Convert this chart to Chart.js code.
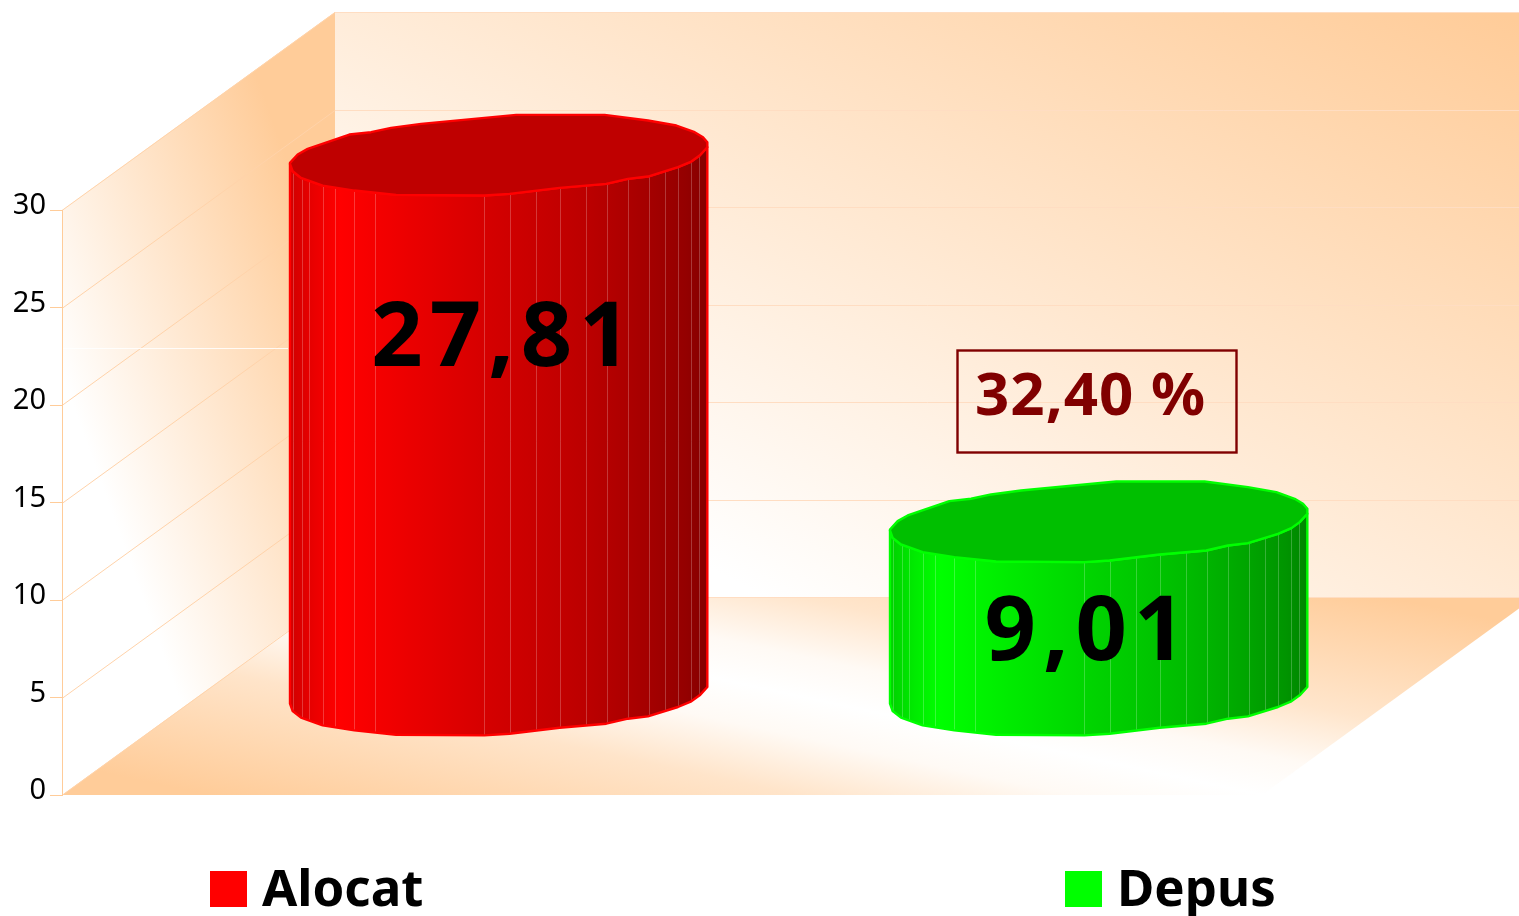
<!DOCTYPE html>
<html>
<head>
<meta charset="utf-8">
<style>html,body{margin:0;padding:0;background:#fff;overflow:hidden}canvas{display:block}</style>
<script src="https://cdn.jsdelivr.net/npm/chart.js@4/dist/chart.umd.min.js"></script>
</head>
<body>
<canvas id="c" width="1519" height="916"></canvas>
<script>
const categories = ['Alocat', 'Depus'];
const values = [27.81, 9.01];
const barColors = ['#ff0000', '#00ff00'];
const ratioLabel = '32,40 %';
const tickStep = 5;
const axisMax = 30;

const FONT = '"Noto Sans", "DejaVu Sans", sans-serif';
const ORANGE = '#ffcc99';
const GRID_SIDE = '#ffd3aa';
const GRID_BACK = '#ffddc2';
const DEPTH = { x: 273, y: -198 };
const UNIT = 625;
const FRONT = [[-625,26],[-617,48],[-592,68],[-527,91],[-432,106],[-307,119],[-42,121],[33,116],[183,98],[323,86],[388,71],[448,64],[538,36],[578,19],[603,1],[626,-24]];
const BACK = [[626,-39],[613,-54],[588,-69],[533,-89],[448,-104],[318,-121],[53,-121],[-232,-94],[-322,-82],[-382,-69],[-447,-62],[-572,-19],[-602,-2],[-625,23]];
const FACETS = [-615,-590,-567,-527,-489,-432,-369,-44,33,111,183,261,325,388,450,498,538,578,601];
const SHADES = [[0,.82],[.06,.92],[.12,1],[.27,.93],[.48,.83],[.7,.74],[.85,.65],[.95,.58],[1,.52]];
const LABEL_NUDGE = [[6, 88], [-10, 15]];

function shade(hex, f) {
  const n = parseInt(hex.slice(1), 16);
  const c = [(n >> 16) & 255, (n >> 8) & 255, n & 255].map(v => Math.round(v * f));
  return `rgb(${c[0]},${c[1]},${c[2]})`;
}
function poly(ctx, pts) {
  ctx.beginPath();
  pts.forEach((p, i) => i ? ctx.lineTo(p[0], p[1]) : ctx.moveTo(p[0], p[1]));
  ctx.closePath();
}

const walls = {
  id: 'walls',
  beforeDraw(chart) {
    const { ctx, chartArea: a, scales: { y } } = chart;
    const L = a.left, R = a.right, B = a.bottom, T = a.top;
    const dx = DEPTH.x, dy = DEPTH.y;
    ctx.save();
    // back wall
    let g = ctx.createLinearGradient(430, 420, 833, -341);
    g.addColorStop(0, '#ffffff'); g.addColorStop(1, ORANGE);
    poly(ctx, [[L+dx,T+dy],[R+dx,T+dy],[R+dx,B+dy],[L+dx,B+dy]]);
    ctx.fillStyle = g; ctx.fill();
    // left wall
    g = ctx.createLinearGradient(22, 265, 290, 168);
    g.addColorStop(0, '#ffffff'); g.addColorStop(1, ORANGE);
    poly(ctx, [[L,T],[L+dx,T+dy],[L+dx,B+dy],[L,B]]);
    ctx.fillStyle = g; ctx.fill();
    // floor: white along the diagonal, orange towards the two far corners
    const cx = (L + dx + R) / 2, cy = (B + dy + B) / 2;
    const run = R - L - dx, rise = -dy;
    const len = Math.hypot(run, rise);
    const reach = 220;
    const nx = -rise / len * reach, ny = run / len * reach;
    g = ctx.createLinearGradient(cx - nx, cy - ny, cx + nx, cy + ny);
    [[0,1],[.28,.5],[.41,.1],[.5,0],[.59,.1],[.72,.52],[1,1]].forEach(s => {
      g.addColorStop(s[0], `rgba(255,204,153,${s[1]})`);
    });
    const floor = [[L,B],[L+dx,B+dy],[R+dx,B+dy],[R,B]];
    poly(ctx, floor); ctx.fillStyle = '#ffffff'; ctx.fill();
    poly(ctx, floor); ctx.fillStyle = g; ctx.fill();
    // grid
    ctx.lineWidth = 1;
    y.ticks.forEach(t => {
      const p = Math.round(y.getPixelForValue(t.value)) + .5;
      ctx.strokeStyle = GRID_SIDE;
      ctx.beginPath(); ctx.moveTo(L, p); ctx.lineTo(L + dx, p + dy); ctx.stroke();
      ctx.strokeStyle = GRID_BACK;
      ctx.beginPath(); ctx.moveTo(L + dx, p + dy); ctx.lineTo(R + dx, p + dy); ctx.stroke();
    });
    // white streak across the side wall
    ctx.strokeStyle = 'rgba(255,255,255,.85)';
    ctx.beginPath(); ctx.moveTo(L + 1, 348.5); ctx.lineTo(288, 348.5); ctx.stroke();
    ctx.restore();
  }
};

const cylinders = {
  id: 'cylinders',
  beforeDatasetDraw() { return false; },
  afterDatasetsDraw(chart) {
    const { ctx } = chart;
    const meta = chart.getDatasetMeta(0);
    meta.data.forEach((el, i) => {
      const col = barColors[i];
      const cx = el.x + DEPTH.x / 2;
      const topY = el.y + DEPTH.y / 2 + 1.5;
      const baseY = el.base + DEPTH.y / 2 - .5;
      const k = el.width / 2 / UNIT;
      const at = (p, cy) => [cx + p[0] * k, cy + p[1] * k];
      const left = cx - el.width / 2;
      ctx.save();
      const body = [...FRONT.map(p => at(p, baseY)), ...FRONT.slice().reverse().map(p => at(p, topY))];
      const g = ctx.createLinearGradient(left, 0, left + el.width, 0);
      SHADES.forEach(s => g.addColorStop(s[0], shade(col, s[1])));
      poly(ctx, body); ctx.fillStyle = g; ctx.fill();
      ctx.save();
      poly(ctx, body); ctx.clip();
      ctx.strokeStyle = 'rgba(255,255,255,.22)'; ctx.lineWidth = 1;
      FACETS.forEach(f => {
        const x = Math.round(cx + f * k) + .5;
        ctx.beginPath(); ctx.moveTo(x, topY - 60); ctx.lineTo(x, baseY + 60); ctx.stroke();
      });
      ctx.restore();
      ctx.strokeStyle = col; ctx.lineWidth = 2.4; ctx.lineJoin = 'round';
      poly(ctx, body); ctx.stroke();
      poly(ctx, [...FRONT, ...BACK].map(p => at(p, topY)));
      ctx.fillStyle = shade(col, .75); ctx.fill(); ctx.stroke();

      // value label
      ctx.fillStyle = '#000';
      ctx.font = `bold 90px ${FONT}`;
      ctx.letterSpacing = '7px';
      ctx.textAlign = 'center'; ctx.textBaseline = 'middle';
      ctx.fillText(values[i].toFixed(2).replace('.', ','), cx + LABEL_NUDGE[i][0], el.y + LABEL_NUDGE[i][1]);
      ctx.letterSpacing = '0px';
      ctx.restore();
    });

    // ratio callout
    ctx.save();
    ctx.strokeStyle = '#800000'; ctx.lineWidth = 2.4;
    ctx.strokeRect(957.5, 350.5, 279, 102);
    ctx.fillStyle = '#800000';
    ctx.font = `bold 60px ${FONT}`;
    ctx.letterSpacing = '1px';
    ctx.textAlign = 'left'; ctx.textBaseline = 'alphabetic';
    ctx.fillText(ratioLabel, 975, 415);
    ctx.letterSpacing = '0px';
    ctx.restore();

    // legend
    ctx.save();
    const spots = [210, 1065];
    categories.forEach((c, i) => {
      ctx.fillStyle = barColors[i];
      ctx.fillRect(spots[i], 871, 37, 36);
      ctx.fillStyle = '#000';
      ctx.font = `bold 51px ${FONT}`;
      ctx.textAlign = 'left'; ctx.textBaseline = 'alphabetic';
      ctx.fillText(c, spots[i] + 52, 906);
    });
    ctx.restore();
  }
};

new Chart(document.getElementById('c'), {
  type: 'bar',
  data: {
    labels: categories,
    datasets: [{ label: 'Valori', data: values, backgroundColor: barColors, barPercentage: .695, categoryPercentage: 1 }]
  },
  plugins: [walls, cylinders],
  options: {
    responsive: false,
    animation: false,
    layout: { padding: { left: 0, top: 210, right: 257, bottom: 121 } },
    plugins: { legend: { display: false }, tooltip: { enabled: false } },
    scales: {
      x: { display: false },
      y: {
        min: 0, max: axisMax,
        afterFit(s) { s.width = 62; },
        border: { color: ORANGE, width: 1 },
        grid: { drawOnChartArea: false, drawTicks: true, tickLength: 12, color: ORANGE },
        ticks: { stepSize: tickStep, padding: 4, labelOffset: -4, color: '#000', font: { family: FONT, size: 29 } }
      }
    }
  }
});
</script>
</body>
</html>
